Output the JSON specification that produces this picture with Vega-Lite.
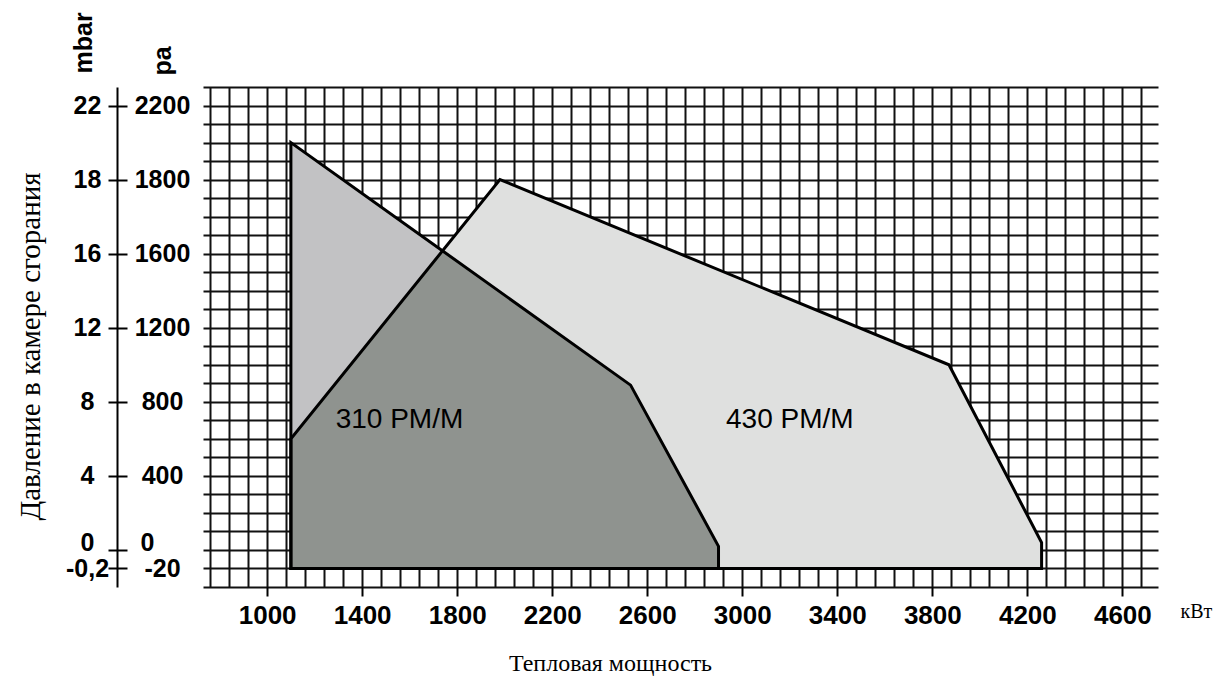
{
  "$schema": "https://vega.github.io/schema/vega-lite/v6.json",
  "autosize": {"type": "none"},
  "padding": {"left": 203, "top": 87, "right": 65, "bottom": 106},
  "width": 955,
  "height": 500,
  "background": "#ffffff",
  "config": {
    "view": {"stroke": null},
    "axis": {
      "labelFont": "Liberation Sans",
      "labelFontWeight": "bold",
      "labelFontSize": 26,
      "labelColor": "#000000",
      "titleColor": "#000000",
      "domainColor": "#000000",
      "tickColor": "#000000",
      "labelOverlap": false,
      "labelFlush": false
    }
  },
  "datasets": {
    "polys": [
      {"shape": "430", "ord": 1, "kw": 1100, "pa": -100},
      {"shape": "430", "ord": 2, "kw": 1100, "pa": 600},
      {"shape": "430", "ord": 3, "kw": 1980, "pa": 2000},
      {"shape": "430", "ord": 4, "kw": 3870, "pa": 1000},
      {"shape": "430", "ord": 5, "kw": 4260, "pa": 40},
      {"shape": "430", "ord": 6, "kw": 4260, "pa": -100},
      {"shape": "310", "ord": 1, "kw": 1100, "pa": -100},
      {"shape": "310", "ord": 2, "kw": 1100, "pa": 2200},
      {"shape": "310", "ord": 3, "kw": 2530, "pa": 890},
      {"shape": "310", "ord": 4, "kw": 2900, "pa": 20},
      {"shape": "310", "ord": 5, "kw": 2900, "pa": -100},
      {"shape": "ov", "ord": 1, "kw": 1100, "pa": -100},
      {"shape": "ov", "ord": 2, "kw": 1100, "pa": 600},
      {"shape": "ov", "ord": 3, "kw": 1738, "pa": 1615},
      {"shape": "ov", "ord": 4, "kw": 2530, "pa": 890},
      {"shape": "ov", "ord": 5, "kw": 2900, "pa": 20},
      {"shape": "ov", "ord": 6, "kw": 2900, "pa": -100}
    ],
    "labels": [
      {"name": "310 PM/M", "kw": 1557, "pa": 700},
      {"name": "430 PM/M", "kw": 3200, "pa": 700}
    ]
  },
  "resolve": {"axis": {"x": "independent", "y": "independent"}},
  "layer": [
    {
      "data": {"name": "polys"},
      "transform": [{"filter": "datum.shape == '430'"}],
      "mark": {"type": "line", "interpolate": "linear-closed", "fill": "#dfe0df", "strokeWidth": 0},
      "encoding": {
        "x": {
          "field": "kw", "type": "quantitative",
          "scale": {"domain": [730, 4750], "nice": false, "zero": false},
          "axis": {
            "orient": "bottom",
            "values": [760, 840, 920, 1000, 1080, 1160, 1240, 1320, 1400, 1480, 1560, 1640, 1720, 1800, 1880, 1960, 2040, 2120, 2200, 2280, 2360, 2440, 2520, 2600, 2680, 2760, 2840, 2920, 3000, 3080, 3160, 3240, 3320, 3400, 3480, 3560, 3640, 3720, 3800, 3880, 3960, 4040, 4120, 4200, 4280, 4360, 4440, 4520, 4600, 4680],
            "grid": true, "gridColor": "#111111", "gridWidth": 2, "gridOpacity": 1,
            "domain": false,
            "ticks": true, "tickSize": 9, "tickWidth": 2,
            "tickOpacity": {"condition": {"test": "datum.value >= 1000 && (datum.value - 1000) % 400 == 0", "value": 1}, "value": 0},
            "labelExpr": "datum.value >= 1000 && (datum.value - 1000) % 400 == 0 ? '' + datum.value : ''",
            "labelPadding": 6,
            "title": "Тепловая мощность",
            "titleFont": "Liberation Serif", "titleFontWeight": "normal", "titleFontSize": 24,
            "titleX": 407, "titleY": 76, "titleAlign": "center", "titleBaseline": "middle"
          }
        },
        "y": {
          "field": "pa", "type": "quantitative",
          "scale": {"domain": [-200, 2500], "nice": false, "zero": false},
          "axis": {
            "orient": "left",
            "values": [-200, -100, 0, 100, 200, 300, 400, 500, 600, 700, 800, 900, 1000, 1100, 1200, 1300, 1400, 1500, 1600, 1700, 1800, 1900, 2000, 2100, 2200, 2300, 2400, 2500],
            "grid": true, "gridColor": "#111111", "gridWidth": 2, "gridOpacity": 1,
            "domain": false, "ticks": false, "labels": false,
            "title": "Давление в камере сгорания",
            "titleFont": "Liberation Serif", "titleFontWeight": "normal", "titleFontSize": 29,
            "titleX": -173, "titleY": 259, "titleAngle": -90, "titleAlign": "center", "titleBaseline": "middle"
          }
        },
        "order": {"field": "ord", "type": "quantitative"}
      }
    },
    {
      "data": {"name": "polys"},
      "transform": [{"filter": "datum.shape == '310'"}],
      "mark": {"type": "line", "interpolate": "linear-closed", "fill": "#c2c2c4", "strokeWidth": 0},
      "encoding": {
        "x": {"field": "kw", "type": "quantitative", "axis": null},
        "y": {
          "field": "pa", "type": "quantitative",
          "axis": {
            "orient": "left", "offset": 86,
            "values": [-100, 0, 400, 800, 1200, 1600, 2000, 2400],
            "grid": false, "domain": true, "domainWidth": 2,
            "ticks": false, "tickSize": 0,
            "labelFontSize": 25,
            "labelAlign": {"condition": {"test": "datum.value == 0", "value": "left"}, "value": "center"},
            "labelPadding": {"condition": {"test": "datum.value == 0", "value": -23}, "value": -45},
            "labelOffset": {"condition": {"test": "datum.value == 0", "value": -7}, "value": 0},
            "labelBaseline": "middle",
            "labelExpr": "datum.value == -100 ? '-20' : datum.value == 2000 ? '1800' : datum.value == 2400 ? '2200' : '' + datum.value",
            "title": "pa",
            "titleFont": "Liberation Sans", "titleFontWeight": "bold", "titleFontSize": 25,
            "titleX": 45, "titleY": -12, "titleAngle": -90, "titleAlign": "left", "titleBaseline": "middle"
          }
        },
        "order": {"field": "ord", "type": "quantitative"}
      }
    },
    {
      "data": {"name": "polys"},
      "transform": [{"filter": "datum.shape == 'ov'"}],
      "mark": {"type": "line", "interpolate": "linear-closed", "fill": "#8f938f", "strokeWidth": 0},
      "encoding": {
        "x": {
          "field": "kw", "type": "quantitative",
          "axis": {
            "orient": "bottom", "values": [], "domain": false, "ticks": false, "labels": false, "grid": false,
            "title": "кВт",
            "titleFont": "Liberation Serif", "titleFontWeight": "normal", "titleFontSize": 20,
            "titleX": 977, "titleY": 24, "titleAlign": "left", "titleBaseline": "middle"
          }
        },
        "y": {
          "field": "pa", "type": "quantitative",
          "axis": {
            "orient": "left", "offset": 76,
            "values": [-100, 0, 400, 800, 1200, 1600, 2000, 2400],
            "grid": false, "domain": false,
            "ticks": true, "tickSize": 19, "tickWidth": 2,
            "labelFontSize": 25,
            "labelAlign": "center", "labelPadding": 21, "labelBaseline": "middle",
            "labelOffset": {"condition": {"test": "datum.value == 0", "value": -7}, "value": 0},
            "labelExpr": "datum.value == -100 ? '-0,2' : datum.value == 2000 ? '18' : datum.value == 2400 ? '22' : '' + (datum.value / 100)",
            "title": "mbar",
            "titleFont": "Liberation Sans", "titleFontWeight": "bold", "titleFontSize": 25,
            "titleX": -44, "titleY": -14, "titleAngle": -90, "titleAlign": "left", "titleBaseline": "middle"
          }
        },
        "order": {"field": "ord", "type": "quantitative"}
      }
    },
    {
      "data": {"name": "polys"},
      "transform": [{"filter": "datum.shape == '430'"}],
      "mark": {"type": "line", "interpolate": "linear-closed", "fill": null, "stroke": "#000000", "strokeWidth": 3},
      "encoding": {
        "x": {"field": "kw", "type": "quantitative", "axis": null},
        "y": {"field": "pa", "type": "quantitative", "axis": null},
        "order": {"field": "ord", "type": "quantitative"}
      }
    },
    {
      "data": {"name": "polys"},
      "transform": [{"filter": "datum.shape == '310'"}],
      "mark": {"type": "line", "interpolate": "linear-closed", "fill": null, "stroke": "#000000", "strokeWidth": 3},
      "encoding": {
        "x": {"field": "kw", "type": "quantitative", "axis": null},
        "y": {"field": "pa", "type": "quantitative", "axis": null},
        "order": {"field": "ord", "type": "quantitative"}
      }
    },
    {
      "data": {"name": "labels"},
      "mark": {"type": "text", "font": "Liberation Sans", "fontSize": 28, "color": "#000000", "align": "center", "baseline": "middle"},
      "encoding": {
        "x": {"field": "kw", "type": "quantitative", "axis": null},
        "y": {"field": "pa", "type": "quantitative", "axis": null},
        "text": {"field": "name", "type": "nominal"}
      }
    }
  ]
}
